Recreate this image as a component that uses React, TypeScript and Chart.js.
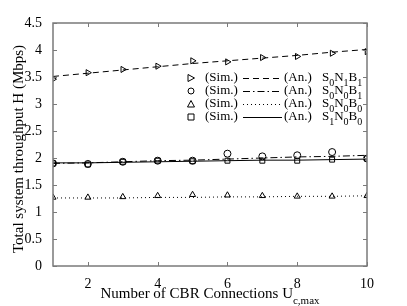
import React, { useEffect, useRef } from "react";
import { Chart, registerables } from "chart.js";

Chart.register(...registerables);

const connections = [1, 2, 3, 4, 5, 6, 7, 8, 9, 10];
const xTickValues = [2, 4, 6, 8, 10];
const yTickValues = [0, 0.5, 1, 1.5, 2, 2.5, 3, 3.5, 4, 4.5];

const simS0N1B1 = [3.46, 3.58, 3.64, 3.7, 3.8, 3.78, 3.86, 3.88, 3.94, 3.97];
const anS0N1B1 = [3.51, 3.57, 3.63, 3.69, 3.75, 3.8, 3.85, 3.9, 3.96, 4.01];
const simS0N0B1 = [1.9, 1.89, 1.93, 1.95, 1.95, 2.08, 2.03, 2.05, 2.11, 1.99];
const anS0N0B1 = [1.9, 1.91, 1.93, 1.95, 1.96, 1.98, 2.0, 2.02, 2.03, 2.05];
const simS0N0B0 = [1.27, 1.27, 1.28, 1.3, 1.32, 1.31, 1.3, 1.29, 1.29, 1.3];
const anS0N0B0 = [1.26, 1.26, 1.26, 1.27, 1.27, 1.28, 1.28, 1.29, 1.29, 1.3];
const simS1N0B0 = [1.9, 1.88, 1.93, 1.95, 1.94, 1.95, 1.95, 1.95, 1.97, 1.99];
const anS1N0B0 = [1.91, 1.91, 1.92, 1.93, 1.94, 1.95, 1.96, 1.96, 1.97, 1.98];

const legendLabels = [
  { sub: ["0", "1", "1"] },
  { sub: ["0", "0", "1"] },
  { sub: ["0", "0", "0"] },
  { sub: ["1", "0", "0"] },
];

const FONT = '"Liberation Serif", "DejaVu Serif", serif';

const pts = (ys: number[]) => connections.map((x, i) => ({ x, y: ys[i] }));

export default function App() {
  const ref = useRef<HTMLCanvasElement | null>(null);
  useEffect(() => {
    document.body.style.margin = "0";
    const canvas = ref.current!;
    const styles = [
      { dash: [6, 4], point: "triangle", rot: 90 },
      { dash: [7, 3, 1.5, 3], point: "circle", rot: 0 },
      { dash: [1, 3], point: "triangle", rot: 0 },
      { dash: [], point: "rect", rot: 0 },
    ];
    const sims = [simS0N1B1, simS0N0B1, simS0N0B0, simS1N0B0];
    const ans = [anS0N1B1, anS0N0B1, anS0N0B0, anS1N0B0];
    const datasets: any[] = [];
    ans.forEach((a, i) => {
      datasets.push({
        data: pts(a),
        borderColor: "#000",
        borderWidth: 1,
        borderDash: styles[i].dash,
        pointRadius: 0,
        tension: 0,
        fill: false,
      });
    });
    sims.forEach((s, i) => {
      datasets.push({
        data: pts(s),
        showLine: false,
        borderColor: "#000",
        backgroundColor: "rgba(0,0,0,0)",
        pointStyle: styles[i].point,
        pointRotation: styles[i].rot,
        pointRadius: 3.5,
        pointBorderWidth: 1,
        pointBorderColor: "#000",
        pointBackgroundColor: "rgba(0,0,0,0)",
      });
    });

    const framePlugin = {
      id: "frame",
      afterDraw(chart: any) {
        const ctx = chart.ctx;
        const ca = chart.chartArea;
        const xs = chart.scales.x;
        const ys = chart.scales.y;
        ctx.save();
        ctx.strokeStyle = "#7a7a7a";
        ctx.lineWidth = 1.5;
        ctx.strokeRect(ca.left, ca.top, ca.right - ca.left, ca.bottom - ca.top);
        ctx.lineWidth = 1;
        ctx.beginPath();
        xTickValues.forEach((v) => {
          const px = Math.round(xs.getPixelForValue(v)) + 0.5;
          ctx.moveTo(px, ca.bottom);
          ctx.lineTo(px, ca.bottom - 4);
          ctx.moveTo(px, ca.top);
          ctx.lineTo(px, ca.top + 4);
        });
        yTickValues.forEach((v) => {
          const py = Math.round(ys.getPixelForValue(v)) + 0.5;
          ctx.moveTo(ca.left, py);
          ctx.lineTo(ca.left + 4, py);
          ctx.moveTo(ca.right, py);
          ctx.lineTo(ca.right - 4, py);
        });
        ctx.stroke();

        // x title with subscript
        ctx.fillStyle = "#000";
        ctx.textBaseline = "alphabetic";
        const main = "Number of CBR Connections U";
        ctx.font = `15px ${FONT}`;
        const w1 = ctx.measureText(main).width;
        ctx.font = `11px ${FONT}`;
        const w2 = ctx.measureText("c,max").width;
        const cx = (ca.left + ca.right) / 2;
        const startX = cx - (w1 + w2) / 2;
        ctx.font = `15px ${FONT}`;
        ctx.textAlign = "left";
        ctx.fillText(main, startX, 298);
        ctx.font = `11px ${FONT}`;
        ctx.fillText("c,max", startX + w1, 304);

        // y title
        ctx.save();
        ctx.translate(23, 149);
        ctx.rotate(-Math.PI / 2);
        ctx.textAlign = "center";
        ctx.font = `15px ${FONT}`;
        ctx.fillText("Total system throughput H (Mbps)", 0, 0);
        ctx.restore();

        // legend
        const rowY = [78, 91, 104, 117];
        legendLabels.forEach((lab, i) => {
          const y = rowY[i];
          const st = styles[i];
          ctx.save();
          ctx.strokeStyle = "#000";
          ctx.lineWidth = 1;
          const mx = 191;
          const r = 3;
          ctx.beginPath();
          if (st.point === "circle") {
            ctx.arc(mx, y, r, 0, Math.PI * 2);
          } else if (st.point === "rect") {
            ctx.rect(mx - r, y - r, 2 * r, 2 * r);
          } else if (st.rot === 90) {
            ctx.moveTo(mx - r, y - r - 0.5);
            ctx.lineTo(mx + r + 0.5, y);
            ctx.lineTo(mx - r, y + r + 0.5);
            ctx.closePath();
          } else {
            ctx.moveTo(mx, y - r - 0.5);
            ctx.lineTo(mx + r + 0.5, y + r);
            ctx.lineTo(mx - r - 0.5, y + r);
            ctx.closePath();
          }
          ctx.stroke();
          ctx.font = `13px ${FONT}`;
          ctx.fillStyle = "#000";
          ctx.textAlign = "left";
          ctx.textBaseline = "middle";
          ctx.fillText("(Sim.)", 205, y);
          ctx.beginPath();
          ctx.setLineDash(st.dash);
          ctx.moveTo(243, y + 0.5);
          ctx.lineTo(282, y + 0.5);
          ctx.stroke();
          ctx.setLineDash([]);
          ctx.fillText("(An.)", 284, y);
          let tx = 322;
          const letters = ["S", "N", "B"];
          letters.forEach((L, k) => {
            ctx.font = `13px ${FONT}`;
            ctx.fillText(L, tx, y);
            tx += ctx.measureText(L).width;
            ctx.font = `10px ${FONT}`;
            ctx.fillText(lab.sub[k], tx, y + 5);
            tx += ctx.measureText(lab.sub[k]).width;
          });
          ctx.restore();
        });
        ctx.restore();
      },
    };

    const chart = new Chart(canvas, {
      type: "line",
      data: { datasets },
      options: {
        animation: false,
        responsive: false,
        maintainAspectRatio: false,
        layout: { padding: { left: 0, right: 40, top: 23, bottom: 0 } },
        plugins: { legend: { display: false }, tooltip: { enabled: false } },
        scales: {
          x: {
            type: "linear",
            min: 1,
            max: 10,
            afterBuildTicks: (s: any) => {
              s.ticks = xTickValues.map((v) => ({ value: v }));
            },
            afterFit: (s: any) => {
              s.height = 40;
            },
            grid: { display: false },
            border: { display: false },
            ticks: {
              color: "#000",
              font: { family: FONT, size: 14 },
              padding: 2,
              maxRotation: 0,
              autoSkip: false,
            },
          },
          y: {
            type: "linear",
            min: 0,
            max: 4.5,
            afterBuildTicks: (s: any) => {
              s.ticks = yTickValues.map((v) => ({ value: v }));
            },
            afterFit: (s: any) => {
              s.width = 53;
            },
            grid: { display: false },
            border: { display: false },
            ticks: {
              color: "#000",
              font: { family: FONT, size: 14 },
              padding: 3,
              autoSkip: false,
              callback: (v: any) => String(v),
            },
          },
        },
      },
      plugins: [framePlugin],
    });
    return () => chart.destroy();
  }, []);
  return (
    <div style={{ width: 407, height: 306 }}>
      <canvas ref={ref} width={407} height={306} style={{ width: 407, height: 306, display: "block" }} />
    </div>
  );
}
